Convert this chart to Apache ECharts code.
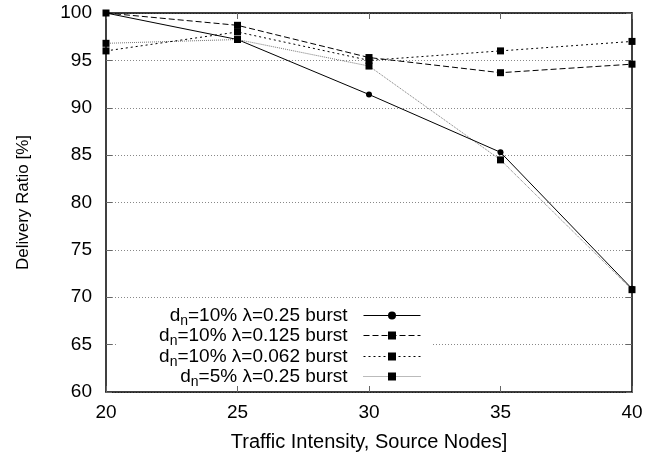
<!DOCTYPE html>
<html>
<head>
<meta charset="utf-8">
<script src="https://cdn.jsdelivr.net/npm/echarts@6/dist/echarts.min.js"></script>
<style>
  html, body { margin: 0; padding: 0; background: #fff; }
  #chart { width: 657px; height: 458px; }
</style>
</head>
<body>
<div id="chart"></div>
<script>
// data
var xValues = [20, 25, 30, 35, 40]
var names = [
  'd_n=10% λ=0.25 burst',
  'd_n=10% λ=0.125 burst',
  'd_n=10% λ=0.062 burst',
  'd_n=5% λ=0.25 burst'
]
var ratio1 = [100, 97.2, 91.4, 85.3, 70.9]
var ratio2 = [100, 98.7, 95.3, 93.7, 94.6]
var ratio3 = [96.0, 98.0, 95.0, 96.0, 97.0]
var ratio4 = [96.8, 97.2, 94.4, 84.5, 70.8]

var font = 'Liberation Sans, Arial, Helvetica, sans-serif'

function pairs(ys) {
  return xValues.map(function (x, i) { return [x, ys[i]] })
}

var styles = [
  { symbol: 'circle', size: 6, type: 'solid', color: '#000' },
  { symbol: 'rect', size: 7, type: [6, 3], color: '#000' },
  { symbol: 'rect', size: 7, type: [2, 3], color: '#000' },
  { symbol: 'rect', size: 7, type: [1, 1], color: '#777' }
]
var values = [ratio1, ratio2, ratio3, ratio4]

var series = values.map(function (ys, i) {
  var s = styles[i]
  return {
    name: names[i],
    type: 'line',
    data: pairs(ys),
    symbol: s.symbol,
    symbolSize: s.size,
    showAllSymbol: true,
    itemStyle: { color: '#000' },
    lineStyle: { color: s.color, width: 1, type: s.type },
    emphasis: { disabled: true },
    z: 5 - i
  }
})

var legendRows = [303, 323, 344, 364]
var legends = names.map(function (n, i) {
  return {
    data: [n],
    orient: 'vertical',
    align: 'right',
    right: 236,
    top: legendRows[i],
    padding: 0,
    itemWidth: 57,
    itemHeight: 10,
    selectedMode: false,
    lineStyle: { width: 1 },
    formatter: function (name) {
      var rest = name.replace('d_n', '')
      return '{m|d}{s|n}{m|' + rest + '}'
    },
    textStyle: {
      fontFamily: font,
      fontSize: 19,
      color: '#000',
      padding: [0, 11, 0, 0],
      rich: {
        m: { fontFamily: font, fontSize: 19, color: '#000', lineHeight: 20 },
        s: { fontFamily: font, fontSize: 14, color: '#000', lineHeight: 20, padding: [11, 0, 0, 0] }
      }
    }
  }
})

var chart = echarts.init(document.getElementById('chart'))
chart.setOption({
  animation: false,
  backgroundColor: '#fff',
  textStyle: { fontFamily: font },
  grid: { left: 106, right: 25, top: 13, bottom: 66 },
  legend: legends,
  graphic: [{
    type: 'rect',
    left: 118, top: 302,
    shape: { width: 315, height: 82 },
    style: { fill: '#fff' },
    z: 3
  }],
  xAxis: [{
    type: 'value',
    min: 20, max: 40, interval: 5,
    name: 'Traffic Intensity, Source Nodes]',
    nameLocation: 'middle',
    nameGap: 40,
    nameTextStyle: { fontFamily: font, fontSize: 20, color: '#000' },
    axisLine: { lineStyle: { color: '#000', width: 1.5 } },
    axisTick: { inside: true, length: 6, lineStyle: { color: '#666' } },
    axisLabel: { fontFamily: font, fontSize: 19, color: '#000', margin: 11 },
    splitLine: { show: false }
  }, {
    type: 'value',
    position: 'top',
    min: 20, max: 40, interval: 5,
    axisLine: { lineStyle: { color: '#000', width: 1.5 } },
    axisTick: { inside: true, length: 6, lineStyle: { color: '#666' } },
    axisLabel: { show: false },
    splitLine: { show: false }
  }],
  yAxis: [{
    type: 'value',
    min: 60, max: 100, interval: 5,
    name: 'Delivery Ratio [%]',
    nameLocation: 'middle',
    nameGap: 74,
    nameTextStyle: { fontFamily: font, fontSize: 17, color: '#000' },
    axisLine: { show: true, lineStyle: { color: '#000', width: 1.5 } },
    axisTick: { show: true, inside: true, length: 6, lineStyle: { color: '#666' } },
    axisLabel: { fontFamily: font, fontSize: 19, color: '#000', margin: 14 },
    splitLine: { show: true, lineStyle: { color: '#888', width: 1, type: [1, 2] } }
  }, {
    type: 'value',
    position: 'right',
    min: 60, max: 100, interval: 5,
    axisLine: { show: true, lineStyle: { color: '#000', width: 1.5 } },
    axisTick: { show: true, inside: true, length: 6, lineStyle: { color: '#666' } },
    axisLabel: { show: false },
    splitLine: { show: false }
  }],
  series: series
})
</script>
</body>
</html>
